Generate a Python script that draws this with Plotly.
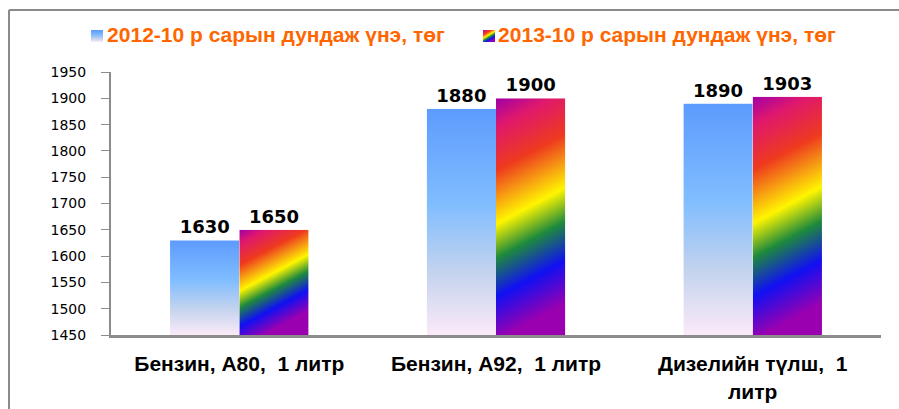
import base64
import plotly.graph_objects as go

# Данные
categories = ["Бензин, А80,  1 литр", "Бензин, А92,  1 литр", "Дизелийн түлш,  1<br>литр"]
series_names = ["2012-10 р сарын дундаж үнэ, төг", "2013-10 р сарын дундаж үнэ, төг"]
prices_2012 = [1630, 1880, 1890]
prices_2013 = [1650, 1900, 1903]
y_min, y_max = 1450, 1950

BAR_W = 0.27
ORANGE = "#FF6600"
GRAY = "#8C8C8C"
ML, MR, MT, MB = 111, 18, 72, 74
PW, PH = 899 - ML - MR, 409 - MT - MB


def svg_uri(svg):
    return "data:image/svg+xml;base64," + base64.b64encode(svg.encode("utf-8")).decode("ascii")


def blue_svg():
    return svg_uri(
        '<svg xmlns="http://www.w3.org/2000/svg" width="100" height="100" viewBox="0 0 100 100" preserveAspectRatio="none">'
        '<defs><linearGradient id="g" x1="0" y1="0" x2="0" y2="1">'
        '<stop offset="0" stop-color="#5D9BFE"/>'
        '<stop offset="0.42" stop-color="#80BDFF"/>'
        '<stop offset="0.72" stop-color="#C3D3EE"/>'
        '<stop offset="1" stop-color="#FBEAF8"/>'
        '</linearGradient></defs>'
        '<rect width="100" height="100" fill="url(#g)"/></svg>'
    )


def rainbow_svg(tilt):
    return svg_uri(
        '<svg xmlns="http://www.w3.org/2000/svg" width="100" height="100" viewBox="0 0 100 100" preserveAspectRatio="none">'
        '<defs><linearGradient id="g" x1="0" y1="0" x2="%.3f" y2="1">' % tilt
        + '<stop offset="0" stop-color="#A000A8"/>'
        '<stop offset="0.12" stop-color="#E0186C"/>'
        '<stop offset="0.3" stop-color="#EE3A1E"/>'
        '<stop offset="0.42" stop-color="#F7A012"/>'
        '<stop offset="0.52" stop-color="#FFF500"/>'
        '<stop offset="0.66" stop-color="#1E8A3C"/>'
        '<stop offset="0.82" stop-color="#1010F2"/>'
        '<stop offset="1" stop-color="#9A00B0"/>'
        '</linearGradient></defs>'
        '<rect width="100" height="100" fill="url(#g)"/></svg>'
    )


x_pos = list(range(len(categories)))
value_font = dict(family="DejaVu Sans", size=18, color="black", weight="bold")

fig = go.Figure()
# сами столбики прозрачные, заливку дают картинки-градиенты ниже
fig.add_trace(go.Bar(
    x=x_pos, y=prices_2012, name=series_names[0],
    width=BAR_W, offset=-BAR_W,
    marker=dict(color="rgba(0,0,0,0)", line=dict(width=0)),
    text=[str(v) for v in prices_2012], textposition="outside",
    textfont=value_font, cliponaxis=False,
))
fig.add_trace(go.Bar(
    x=x_pos, y=prices_2013, name=series_names[1],
    width=BAR_W, offset=0,
    marker=dict(color="rgba(0,0,0,0)", line=dict(width=0)),
    text=[str(v) for v in prices_2013], textposition="outside",
    textfont=value_font, cliponaxis=False,
))

images = []
for i, (a, b) in enumerate(zip(prices_2012, prices_2013)):
    images.append(dict(source=blue_svg(), xref="x", yref="y", x=i - BAR_W, y=a,
                       sizex=BAR_W, sizey=a - y_min, sizing="stretch",
                       xanchor="left", yanchor="top", layer="above"))
    tilt = 0.14 * 500 / (b - y_min)
    images.append(dict(source=rainbow_svg(tilt), xref="x", yref="y", x=i, y=b,
                       sizex=BAR_W, sizey=b - y_min, sizing="stretch",
                       xanchor="left", yanchor="top", layer="above"))

# значки легенды
for src, px in [(blue_svg(), 91), (rainbow_svg(0.6), 483)]:
    images.append(dict(source=src, xref="paper", yref="paper",
                       x=(px - ML) / PW, y=1 + (MT - 30) / PH,
                       sizex=12 / PW, sizey=12 / PH, sizing="stretch",
                       xanchor="left", yanchor="top", layer="above"))

# рамка всей диаграммы (верх и левый край)
bx, by = (9 - ML) / PW, 1 + (MT - 10) / PH
frame = [
    dict(type="line", xref="paper", yref="paper", x0=bx, x1=1.1, y0=by, y1=by,
         line=dict(color="#8A8A8A", width=2)),
    dict(type="line", xref="paper", yref="paper", x0=bx, x1=bx, y0=by, y1=-0.5,
         line=dict(color="#8A8A8A", width=2)),
]

fig.update_layout(
    width=899, height=409,
    margin=dict(l=ML, r=MR, t=MT, b=MB),
    paper_bgcolor="white", plot_bgcolor="white",
    images=images,
    showlegend=True,
    legend=dict(orientation="h", x=-0.057, xanchor="left", y=1.143, yanchor="middle",
                bgcolor="rgba(0,0,0,0)",
                font=dict(family="Liberation Sans", size=21, color=ORANGE, weight="bold"),
                itemwidth=30, entrywidth=346, entrywidthmode="pixels", traceorder="normal"),
    xaxis=dict(range=[-0.5, 2.5], tickvals=x_pos, ticktext=categories, automargin=False,
               showgrid=False, zeroline=False, showline=True, linecolor=GRAY, linewidth=3,
               ticks="", ticklabelstandoff=8,
               tickfont=dict(family="Liberation Sans", size=21, color="black", weight="bold")),
    yaxis=dict(range=[y_min, y_max], dtick=50, showgrid=False, zeroline=False, automargin=False,
               showline=True, linecolor=GRAY, linewidth=2,
               ticks="outside", ticklen=8, tickcolor=GRAY, tickwidth=1,
               ticklabelstandoff=12,
               tickfont=dict(family="DejaVu Sans", size=14, color="black")),
    shapes=frame,
    hovermode=False,
)

# убрать отступ body, чтобы график стоял ровно в углу окна
fig.write_html("out.html", config={"displayModeBar": False},
               post_script="document.body.style.margin='0';")
